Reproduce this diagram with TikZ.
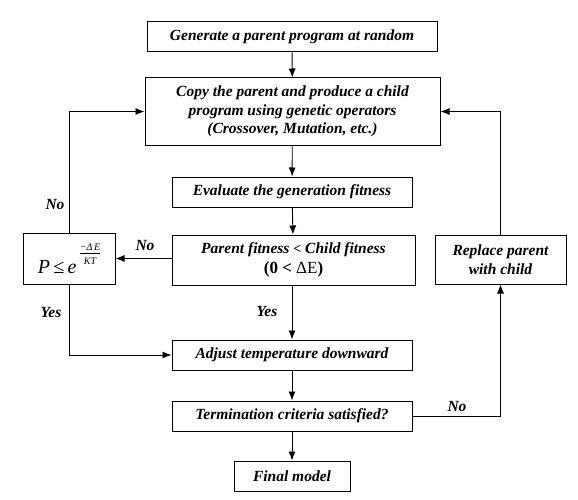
\documentclass[tikz,border=0pt]{standalone}
\usepackage{fontspec}
\setmainfont{Liberation Serif}
\usetikzlibrary{arrows.meta}
\begin{document}
\begin{tikzpicture}[x=1pt,y=-1pt,
  box/.style={draw,line width=1pt,inner sep=0pt,align=center,font=\fontsize{15.5}{18.5}\selectfont\bfseries\itshape},
  lbl/.style={font=\fontsize{15.5}{18.5}\selectfont\bfseries\itshape},
  arr/.style={line width=0.9pt,-{Latex[length=9pt,width=7pt]}},
  ln/.style={line width=0.9pt}]
\useasboundingbox (0,0) rectangle (578,500);
\node[box,minimum width=290,minimum height=30] (gen) at (292,37) {Generate a parent program at random};
\node[box,minimum width=295,minimum height=67] (copy) at (292.5,111.5) {Copy the parent and produce a child\\program using genetic operators\\(Crossover, Mutation, etc.)};
\node[box,minimum width=240,minimum height=30] (eval) at (292,192) {Evaluate the generation fitness};
\node[box,minimum width=243,minimum height=50] (cmp) at (293.5,260) {Parent fitness {\fontsize{14}{15}\selectfont<} Child fitness\\[1pt]{\upshape\fontsize{17}{19}\selectfont(\textbf{0} \textbf{<} {\mdseries ΔE})}};
\node[box,minimum width=92,minimum height=51] (p) at (69,258.5) {\mdseries\fontsize{20}{22}\selectfont\raisebox{-7pt}{\textit{P}\,≤\,\textit{e}}\,\raisebox{9pt}{\fontsize{10}{11}\selectfont\itshape\begin{tabular}{@{}c@{}}−Δ\,E\\[-1pt]\hline\rule{0pt}{11pt}KT\end{tabular}}};
\node[box,minimum width=131,minimum height=49] (rep) at (500.5,259.5) {Replace parent\\with child};
\node[box,minimum width=240,minimum height=30] (adj) at (292,355) {Adjust temperature downward};
\node[box,minimum width=240,minimum height=30] (term) at (292,416) {Termination criteria satisfied?};
\node[box,minimum width=116,minimum height=30] (fin) at (292,476) {Final model};
\coordinate (c1) at (69,111.5);
\coordinate (c2) at (69,355);
\coordinate (c3) at (500.5,416);
\coordinate (c4) at (500.5,111.5);
\draw[arr] (gen) -- (copy);
\draw[arr] (copy) -- (eval);
\draw[arr] (eval) -- (cmp);
\draw[arr] (cmp.west |- p.east) -- (p.east);
\draw[arr] (p.north) -- (c1) -- (copy.west);
\draw[arr] (p.south) -- (c2) -- (adj.west);
\draw[arr] (cmp.south -| adj.north) -- (adj.north);
\draw[arr] (adj) -- (term);
\draw[arr] (term) -- (fin);
\draw[arr] (term.east) -- (c3) -- (rep.south);
\draw[arr] (rep.north) -- (c4) -- (copy.east);
\node[lbl] (no1) at (145,245) {No};
\node[lbl] (no2) at (55,205) {No};
\node[lbl] (yes1) at (51,312) {Yes};
\node[lbl] (yes2) at (267,311) {Yes};
\node[lbl] (no3) at (457,406) {No};
\end{tikzpicture}
\end{document}
